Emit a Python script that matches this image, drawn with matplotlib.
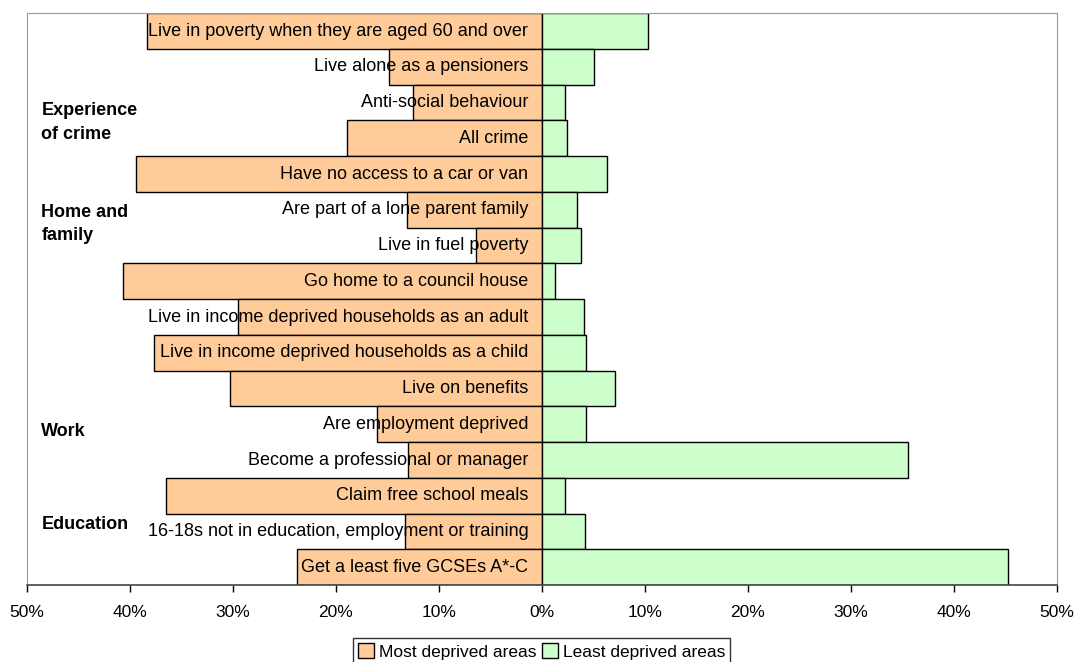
import numpy as np
import matplotlib.pyplot as plt
from matplotlib.patches import Patch

plt.rcParams['font.family'] = ['Liberation Sans', 'DejaVu Sans']

categories = [
    'Live in poverty when they are aged 60 and over',
    'Live alone as a pensioners',
    'Anti-social behaviour',
    'All crime',
    'Have no access to a car or van',
    'Are part of a lone parent family',
    'Live in fuel poverty',
    'Go home to a council house',
    'Live in income deprived households as an adult',
    'Live in income deprived households as a child',
    'Live on benefits',
    'Are employment deprived',
    'Become a professional or manager',
    'Claim free school meals',
    '16-18s not in education, employment or training',
    'Get a least five GCSEs A*-C',
]
most_deprived = [38.3, 14.8, 12.5, 18.9, 39.4, 13.1, 6.4, 40.7,
                 29.5, 37.7, 30.3, 16.0, 13.0, 36.5, 13.3, 23.8]
least_deprived = [10.3, 5.1, 2.3, 2.45, 6.3, 3.4, 3.8, 1.3,
                  4.1, 4.3, 7.1, 4.3, 35.6, 2.3, 4.2, 45.3]

groups = ['Experience\nof crime', 'Home and\nfamily', 'Work', 'Education']
group_pos = [2.55, 5.4, 11.2, 13.8]

ticks = [-50, -40, -30, -20, -10, 0, 10, 20, 30, 40, 50]
tick_labels = [f'{abs(t)}%' for t in ticks]

orange = '#FFCC99'
green = '#CCFFCC'

fig = plt.figure(figsize=(10.77, 6.62), dpi=100)
ax = fig.add_axes([0.025, 0.116, 0.956, 0.864])

y = np.arange(len(categories))
ax.barh(y, -np.array(most_deprived), height=1.0, color=orange,
        edgecolor='black', linewidth=1.0)
ax.barh(y, least_deprived, height=1.0, color=green,
        edgecolor='black', linewidth=1.0)

# category names sit just left of zero
for yi, name in zip(y, categories):
    ax.text(-1.3, yi, name, ha='right', va='center', fontsize=13)

# group headings on the left
for pos, g in zip(group_pos, groups):
    ax.text(-48.6, pos, g, ha='left', va='center', fontsize=13,
            fontweight='bold', linespacing=1.5)

ax.set_xlim(-50, 50)
ax.set_ylim(len(categories) - 0.5, -0.5)
ax.set_xticks(ticks)
ax.set_xticklabels(tick_labels, fontsize=12.5)
ax.set_yticks([])
ax.tick_params(axis='x', direction='out', length=5, width=1.0, pad=9)

for side in ['left', 'top', 'right']:
    ax.spines[side].set_color('#999999')
ax.spines['bottom'].set_color('#444444')
ax.spines['bottom'].set_linewidth(1.2)

handles = [Patch(facecolor=orange, edgecolor='black', label='Most deprived areas'),
           Patch(facecolor=green, edgecolor='black', label='Least deprived areas')]
leg = fig.legend(handles=handles, loc='center', bbox_to_anchor=(0.503, 0.016),
                 ncol=2, fontsize=12.5, frameon=True, fancybox=False,
                 borderpad=0.3, handlelength=0.9, handleheight=0.9,
                 handletextpad=0.3, columnspacing=0.3, borderaxespad=0)
leg.get_frame().set_edgecolor('black')
leg.get_frame().set_linewidth(1.0)

fig.savefig('out.png', dpi=100)
